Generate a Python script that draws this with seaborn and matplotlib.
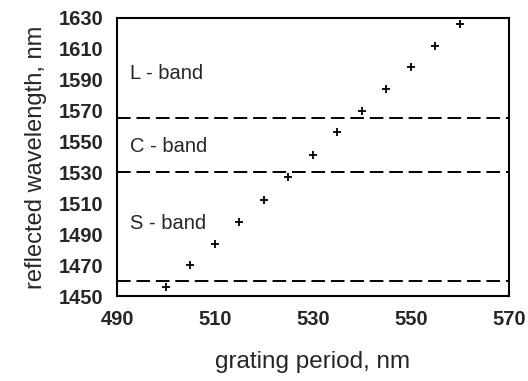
import matplotlib
matplotlib.use('Agg')
import matplotlib.pyplot as plt
import pandas as pd
import seaborn as sns

# Data
period = [500, 505, 510, 515, 520, 525, 530, 535, 540, 545, 550, 555, 560]
wavelength = [1456, 1470, 1484, 1498, 1512, 1527, 1541, 1556, 1570, 1584, 1598, 1612, 1626]
band_edges = [1565, 1530, 1460]
band_names = ['L - band', 'C - band', 'S - band']
band_label_y = [1594, 1547, 1497]
x_ticks = [490, 510, 530, 550, 570]
y_ticks = list(range(1450, 1631, 20))

df = pd.DataFrame({'period': period, 'wavelength': wavelength})

sns.set_style('white')
plt.rcParams['font.family'] = ['Liberation Sans', 'DejaVu Sans']

fig = plt.figure(figsize=(5.28, 3.81), dpi=100)
ax = fig.add_axes([0.2216, 0.223, 0.742, 0.730])

sns.scatterplot(data=df, x='period', y='wavelength', marker='+', s=30,
                color='black', linewidth=1.3, ax=ax, zorder=3)

for edge in band_edges:
    ax.axhline(edge, color='black', linewidth=1.4, linestyle=(0, (7, 3)))

for name, ly in zip(band_names, band_label_y):
    ax.text(492.6, ly, name, fontsize=14.5, va='center', ha='left')

ax.set_xlim(490, 570)
ax.set_ylim(1450, 1630)
ax.set_xticks(x_ticks)
ax.set_yticks(y_ticks)
ax.tick_params(axis='both', direction='out', length=2, width=1, color='black',
               labelsize=14.5, pad=8)
for lbl in ax.get_xticklabels() + ax.get_yticklabels():
    lbl.set_fontweight('bold')

for sp in ax.spines.values():
    sp.set_color('black')
    sp.set_linewidth(1.5)

ax.set_xlabel('grating period, nm', fontsize=17.5, labelpad=16)
ax.set_ylabel('reflected wavelength, nm', fontsize=17, labelpad=8)

fig.savefig('out.png', dpi=100)
